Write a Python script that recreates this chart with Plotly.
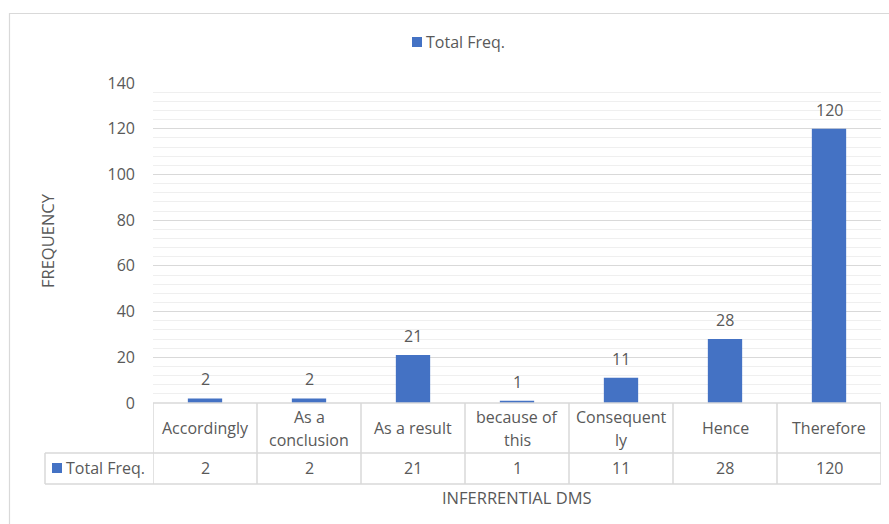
import plotly.graph_objects as go

# Inferential discourse markers and their total frequencies
categories = ["Accordingly", "As a conclusion", "As a result", "because of this",
              "Consequently", "Hence", "Therefore"]
header_labels = ["Accordingly", "As a<br>conclusion", "As a result", "because of<br>this",
                 "Consequent<br>ly", "Hence", "Therefore"]
values = [2, 2, 21, 1, 11, 28, 120]
series_name = "Total Freq."

BAR = "#4472C4"
TEXT = "#595959"
GRID = "#d9d9d9"
MINOR = "#efefef"
FONT = "Open Sans"
FS = 16

# pixel geometry of the plot area inside the 889x524 page
W, H = 889, 524
L, R, T, B = 153, 8, 83, 121
PW, PH = W - L - R, H - T - B


def px(xp):
    return (xp - L) / PW


def py(yp):
    return (H - B - yp) / PH


fig = go.Figure()
fig.add_trace(go.Bar(
    x=categories, y=values, name=series_name,
    marker=dict(color=BAR, line=dict(width=0)),
    width=0.33, showlegend=False,
))

shapes = []
annotations = []

# value labels above the bars
for cat, v in zip(categories, values):
    annotations.append(dict(text=str(v), xref="x", yref="y", x=cat, y=v,
                            xanchor="center", yanchor="middle", yshift=19, showarrow=False,
                            font=dict(family=FONT, size=FS, color=TEXT)))

# outer chart frame (top and left edges visible)
shapes.append(dict(type="rect", xref="paper", yref="paper",
                   x0=px(9.5), x1=px(895), y0=py(535), y1=py(13.5),
                   line=dict(color=GRID, width=1.2), layer="below"))

# data table under the axis
row1_top, row1_bot, row2_bot = 0.0, py(453), py(484)
n = len(categories)
line_style = dict(color=GRID, width=1.5)
shapes.append(dict(type="line", xref="x", yref="paper", x0=-0.5, x1=n - 0.5,
                   y0=row1_top, y1=row1_top, line=line_style))
for yv in (row1_bot, row2_bot):
    shapes.append(dict(type="line", xref="paper", yref="paper", x0=px(45), x1=1,
                       y0=yv, y1=yv, line=line_style))
for i in range(n + 1):
    shapes.append(dict(type="line", xref="x", yref="paper", x0=i - 0.5, x1=i - 0.5,
                       y0=row2_bot, y1=row1_top, line=line_style))
shapes.append(dict(type="line", xref="paper", yref="paper", x0=px(45), x1=px(45),
                   y0=row2_bot, y1=row1_bot, line=line_style))

# legend key inside the table row
shapes.append(dict(type="rect", xref="paper", yref="paper",
                   x0=px(52), x1=px(62), y0=py(473), y1=py(463),
                   fillcolor=BAR, line=dict(width=0)))
annotations.append(dict(text=series_name, xref="paper", yref="paper", x=px(64), y=py(468),
                        xanchor="left", yanchor="middle", showarrow=False,
                        font=dict(family=FONT, size=FS, color=TEXT)))

# category headers (two-line headers placed line by line) and value cells
for cat, lab, v in zip(categories, header_labels, values):
    lines = lab.split("<br>")
    ys = [428] if len(lines) == 1 else [417, 440]
    for line, yl in zip(lines, ys):
        annotations.append(dict(text=line, xref="x", yref="paper", x=cat, y=py(yl),
                                xanchor="center", yanchor="middle", showarrow=False,
                                font=dict(family=FONT, size=FS, color=TEXT)))
    annotations.append(dict(text=str(v), xref="x", yref="paper", x=cat, y=py(468),
                            xanchor="center", yanchor="middle", showarrow=False,
                            font=dict(family=FONT, size=FS, color=TEXT)))

# top legend
shapes.append(dict(type="rect", xref="paper", yref="paper",
                   x0=px(412), x1=px(422), y0=py(47), y1=py(37),
                   fillcolor=BAR, line=dict(width=0)))
annotations.append(dict(text=series_name, xref="paper", yref="paper", x=px(424), y=py(42),
                        xanchor="left", yanchor="middle", showarrow=False,
                        font=dict(family=FONT, size=FS, color=TEXT)))

# axis titles
annotations.append(dict(text="FREQUENCY", xref="paper", yref="paper", x=px(47), y=py(240),
                        textangle=-90, xanchor="center", yanchor="middle", showarrow=False,
                        font=dict(family=FONT, size=16.5, color=TEXT)))
annotations.append(dict(text="INFERRENTIAL DMS", xref="paper", yref="paper", x=px(517), y=py(497),
                        xanchor="center", yanchor="middle", showarrow=False,
                        font=dict(family=FONT, size=16.5, color=TEXT)))

fig.update_layout(
    width=W, height=H,
    margin=dict(l=L, r=R, t=T, b=B),
    paper_bgcolor="white", plot_bgcolor="white",
    showlegend=False,
    shapes=shapes, annotations=annotations,
    xaxis=dict(type="category", range=[-0.5, n - 0.5], showticklabels=False,
               showgrid=False, showline=False, zeroline=False, fixedrange=True),
    yaxis=dict(range=[0, 140], dtick=20, tick0=0, showgrid=True, gridcolor=GRID, gridwidth=1,
               zeroline=False, showline=False, ticks="", ticklabelstandoff=17,
               tickfont=dict(family=FONT, size=FS, color=TEXT),
               minor=dict(dtick=4, showgrid=True, gridcolor=MINOR, gridwidth=1)),
)

fig.write_html("out.html")
